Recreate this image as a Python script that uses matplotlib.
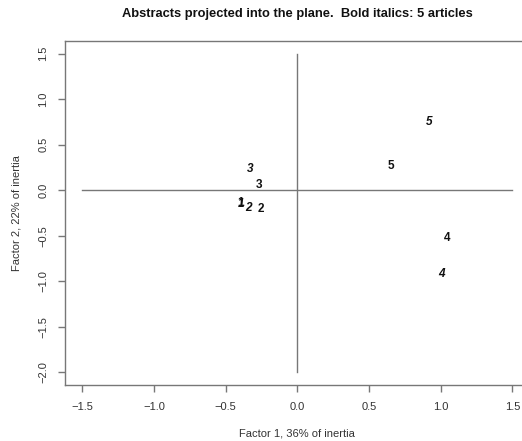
import matplotlib
matplotlib.use("Agg")
import matplotlib.pyplot as plt

plt.rcParams['font.family'] = ['Liberation Sans', 'DejaVu Sans']

# Abstracts (plain bold) and articles (bold italic)
labels = ["1", "2", "3", "4", "5"]
abstract_x = [-0.397, -0.253, -0.269, 1.043, 0.653]
abstract_y = [-0.14, -0.205, 0.058, -0.526, 0.266]
article_x = [-0.390, -0.339, -0.328, 1.008, 0.922]
article_y = [-0.154, -0.198, 0.233, -0.919, 0.751]

xticks = [-1.5, -1.0, -0.5, 0.0, 0.5, 1.0, 1.5]
yticks = [-2.0, -1.5, -1.0, -0.5, 0.0, 0.5, 1.0, 1.5]

line_col = "#777777"

fig = plt.figure(figsize=(5.22, 4.41), dpi=100)
ax = fig.add_axes([65/522, 1-385/441, (529.5-65)/522, (385-41)/441])
ax.set_xlim(-1.62, 1.62)
ax.set_ylim(-2.14, 1.64)

ax.plot([-1.5, 1.5], [0, 0], color=line_col, lw=1)
ax.plot([0, 0], [-2.0, 1.5], color=line_col, lw=1)

for lab, x, y in zip(labels, abstract_x, abstract_y):
    ax.text(x, y, lab, ha='center', va='center', fontsize=8.5, fontweight='bold', color='#111111')
for lab, x, y in zip(labels, article_x, article_y):
    ax.text(x, y, lab, ha='center', va='center', fontsize=8.5, fontweight='bold', fontstyle='italic', color='#111111')

ax.set_xticks(xticks)
ax.set_yticks(yticks)
ax.set_xticklabels([f"{t:.1f}".replace("-", "\u2212") for t in xticks])
ax.set_yticklabels([f"{t:.1f}".replace("-", "\u2212") for t in yticks], rotation=90, va='center')
ax.tick_params(direction='out', length=5, width=1, color=line_col, labelsize=8, pad=7, labelcolor='#333333')
for s in ax.spines.values():
    s.set_color(line_col)
    s.set_linewidth(1)

ax.set_xlabel("Factor 1, 36% of inertia", fontsize=8, color='#333333', labelpad=12)
ax.set_ylabel("Factor 2, 22% of inertia", fontsize=8, color='#333333', labelpad=12)
fig.text(297/522, 1-14/441, "Abstracts projected into the plane.  Bold italics: 5 articles",
         ha='center', va='center', fontsize=9.3, fontweight='bold', color='#111111')

fig.savefig("out.png", dpi=100)
